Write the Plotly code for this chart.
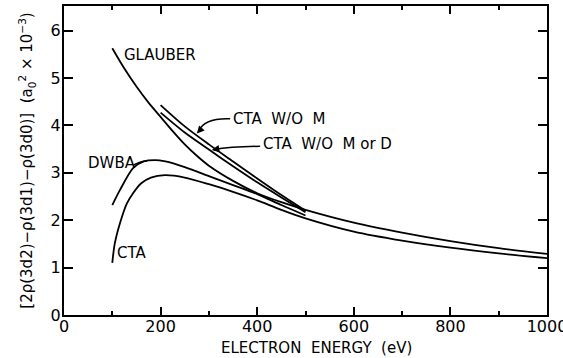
import plotly.graph_objects as go

# ---- data ----
glauber_e = [100, 125, 150, 175, 200, 225, 250, 275, 300, 350, 400, 450, 500, 600, 700, 800, 900, 1000]
glauber_v = [5.63, 5.2, 4.82, 4.48, 4.18, 3.88, 3.6, 3.36, 3.15, 2.83, 2.57, 2.38, 2.22, 1.95, 1.74, 1.56, 1.41, 1.29]

ctawom_e = [200, 250, 300, 350, 400, 450, 500]
ctawom_v = [4.43, 3.98, 3.6, 3.24, 2.88, 2.53, 2.2]

ctawomd_e = [200, 250, 300, 350, 400, 450, 500]
ctawomd_v = [4.27, 3.85, 3.49, 3.14, 2.8, 2.48, 2.17]

dwba_e = [100, 116, 143, 165, 188, 210, 250, 300, 350, 400, 450, 500]
dwba_v = [2.32, 2.64, 3.10, 3.24, 3.27, 3.24, 3.12, 2.93, 2.74, 2.55, 2.32, 2.1]

cta_e = [100, 105, 116, 130, 143, 160, 180, 209, 250, 300, 350, 400, 450, 500, 600, 700, 800, 900, 1000]
cta_v = [1.10, 1.5, 1.94, 2.35, 2.57, 2.78, 2.9, 2.95, 2.9, 2.76, 2.6, 2.42, 2.22, 2.04, 1.76, 1.57, 1.42, 1.30, 1.20]

x_ticks = [0, 200, 400, 600, 800, 1000]
y_ticks = [0, 1, 2, 3, 4, 5, 6]

FONT = "DejaVu Sans"
fig = go.Figure()
for xs, ys in [(glauber_e, glauber_v), (ctawom_e, ctawom_v), (ctawomd_e, ctawomd_v),
               (dwba_e, dwba_v), (cta_e, cta_v)]:
    fig.add_trace(go.Scatter(x=xs, y=ys, mode="lines",
                             line=dict(color="black", width=1.8, shape="spline", smoothing=0.8),
                             showlegend=False, hoverinfo="skip"))

ann = dict(showarrow=False, font=dict(family=FONT, size=15, color="black"), xanchor="left")
fig.add_annotation(x=120, y=5.48, text="GLAUBER", **ann)
fig.add_annotation(x=346, y=4.14, text="CTA  W/O  M", **ann)
fig.add_annotation(x=408, y=3.6, text="CTA  W/O  M or D", **ann)
fig.add_annotation(x=46, y=3.2, text="DWBA", **ann)
fig.add_annotation(x=105, y=1.3, text="CTA", **ann)

# curved leaders
fig.add_shape(type="path", path="M 344,4.14 Q 290,4.16 279,3.88", line=dict(color="black", width=1.5))
fig.add_shape(type="path", path="M 406,3.56 Q 345,3.55 310,3.49", line=dict(color="black", width=1.5))
fig.add_shape(type="path", path="M 143,3.16 Q 160,3.25 172,3.25", line=dict(color="black", width=1.5))
# arrowheads
fig.add_annotation(x=275, y=3.83, ax=284, ay=3.93, xref="x", yref="y", axref="x", ayref="y",
                   text="", showarrow=True, arrowhead=2, arrowsize=1, arrowwidth=1.5, arrowcolor="black")
fig.add_annotation(x=306, y=3.48, ax=317, ay=3.5, xref="x", yref="y", axref="x", ayref="y",
                   text="", showarrow=True, arrowhead=2, arrowsize=1, arrowwidth=1.5, arrowcolor="black")

# x-axis title as annotation (centred as in reference)
fig.add_annotation(x=0.522, y=-0.108, xref="paper", yref="paper", text="ELECTRON  ENERGY  (eV)",
                   showarrow=False, xanchor="center", yanchor="middle",
                   font=dict(family=FONT, size=15, color="black"))

axis_common = dict(showline=True, linecolor="black", linewidth=2, mirror="ticks",
                   ticks="inside", tickcolor="black", tickwidth=1.5, showgrid=False, zeroline=False,
                   tickfont=dict(family=FONT, size=16, color="black"))
fig.update_xaxes(range=[0, 1000], tickvals=x_ticks, ticklen=8, ticklabeloverflow="allow",
                 automargin=False, ticklabelstandoff=-4,
                 minor=dict(dtick=100, ticklen=4, ticks="inside", tickcolor="black", tickwidth=1.5),
                 **axis_common)
fig.update_yaxes(range=[0, 6.52], tickvals=y_ticks, ticklen=9, ticklabelstandoff=-2,
                 automargin=False,
                 title=dict(text="[2ρ(3d2)−ρ(3d1)−ρ(3d0)]  (a<sub>0</sub><sup>2</sup> × 10<sup>−3</sup>)",
                            font=dict(family=FONT, size=15, color="black"), standoff=14),
                 **axis_common)
fig.update_layout(width=563, height=358, margin=dict(l=64, r=16, t=6, b=43),
                  plot_bgcolor="white", paper_bgcolor="white")
fig.write_html("out.html")
